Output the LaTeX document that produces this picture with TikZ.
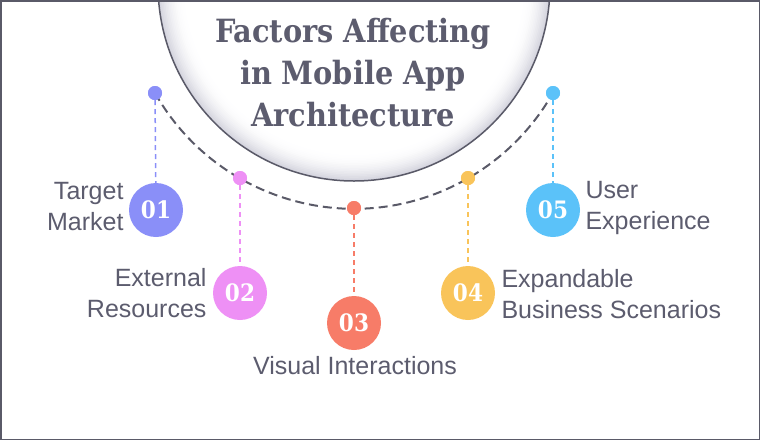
\documentclass[tikz,border=0pt]{standalone}
\usepackage{fontspec}
\setmainfont{Liberation Sans}
\newfontfamily\titlefont{DejaVu Serif Condensed}
\definecolor{textgray}{RGB}{92,92,110}
\definecolor{linegray}{RGB}{90,90,104}
\definecolor{shadegray}{RGB}{212,212,222}
\definecolor{cone}{RGB}{138,143,248}
\definecolor{ctwo}{RGB}{238,144,245}
\definecolor{cthree}{RGB}{247,124,104}
\definecolor{cfour}{RGB}{249,196,90}
\definecolor{cfive}{RGB}{91,194,249}
\tikzset{
  dot/.style={circle, inner sep=0pt, minimum size=14pt},
  numcircle/.style={circle, inner sep=0pt, minimum size=54pt, text=white,
    font=\titlefont\bfseries\fontsize{24}{24}\selectfont},
  factortext/.style={text=textgray, font=\fontsize{25}{31}\selectfont},
  drop/.style={dash pattern=on 5pt off 4pt, line width=1.5pt}
}
\begin{document}
\begin{tikzpicture}[x=1pt, y=-1pt]
    \useasboundingbox (0,0) rectangle (760,440);
    \begin{scope}
        \clip (0,0) rectangle (760,440);
        \coordinate (bigc) at (354,-15);
        \foreach \k [evaluate=\k as \pct using int(100-(16-\k)*(16-\k)/2.56), evaluate=\k as \rad using 196-\k*1.6] in {0,...,16}
            \fill[white!\pct!shadegray] (bigc) circle[radius=\rad pt];
        \draw[linegray, line width=1.5pt] (bigc) circle[radius=196pt];
    \end{scope}
    \node[text=textgray, align=center, font=\titlefont\bfseries\fontsize{32}{42}\selectfont] (title) at (353,73) {Factors Affecting\\in Mobile App\\Architecture};
    \node[dot, fill=cone] (d1) at (155,93) {};
    \node[dot, fill=ctwo] (d2) at (240,178) {};
    \node[dot, fill=cthree] (d3) at (354,208) {};
    \node[dot, fill=cfour] (d4) at (468,178) {};
    \node[dot, fill=cfive] (d5) at (553,93) {};
    \draw[linegray, line width=2pt, dash pattern=on 9pt off 5pt] (d1.center) arc[start angle=209.6, end angle=330.4, radius=228.8pt];
    \node[dot, fill=cone] at (d1) {};
    \node[dot, fill=ctwo] at (d2) {};
    \node[dot, fill=cthree] at (d3) {};
    \node[dot, fill=cfour] at (d4) {};
    \node[dot, fill=cfive] at (d5) {};
    \node[numcircle, fill=cone] (n1) at (156,210) {01};
    \node[numcircle, fill=ctwo] (n2) at (240,293) {02};
    \node[numcircle, fill=cthree] (n3) at (354,323) {03};
    \node[numcircle, fill=cfour] (n4) at (468,293) {04};
    \node[numcircle, fill=cfive] (n5) at (553,210) {05};
    \draw[drop, cone] (d1) -- (n1);
    \draw[drop, ctwo] (d2) -- (n2);
    \draw[drop, cthree] (d3) -- (n3);
    \draw[drop, cfour] (d4) -- (n4);
    \draw[drop, cfive] (d5) -- (n5);
    \node[factortext, anchor=east, align=right] (t1) at (127,207) {Target\\Market};
    \node[factortext, anchor=east, align=right] (t2) at (210,293) {External\\Resources};
    \node[factortext] (t3) at (355,366) {Visual Interactions};
    \node[factortext, anchor=west, align=left] (t4) at (498,294) {Expandable\\Business Scenarios};
    \node[factortext, anchor=west, align=left] (t5) at (582,208) {User\\Experience};
    \draw[linegray, line width=1.5pt] (0.75,0.75) rectangle (759.25,439.25);
\end{tikzpicture}
\end{document}
